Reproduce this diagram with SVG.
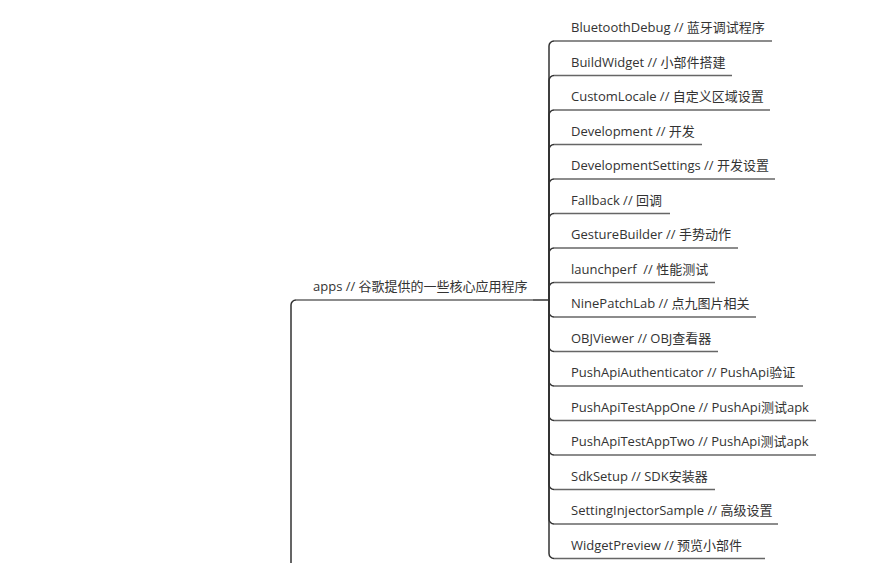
<svg xmlns="http://www.w3.org/2000/svg" width="874" height="563" viewBox="0 0 874 563">
<style>
text{font-family:"Open Sans","Noto Sans CJK SC",sans-serif;font-size:13px;fill:#333}
.ul{stroke:#666;stroke-width:1.5;fill:none}
.cn{stroke:#333;stroke-width:1.5;fill:none}
</style>
<rect width="874" height="563" fill="#fff"/>
<g id="connectors">
<path class="cn" d="M291,570 V305 A5,5 0 0 1 296,300"/>
<path class="cn" d="M533,300 H549"/>
<path class="cn" d="M549,300 V46 A5,5 0 0 1 554,41"/>
<path class="cn" d="M549,300 V80.5 A5,5 0 0 1 554,75.5"/>
<path class="cn" d="M549,300 V115 A5,5 0 0 1 554,110"/>
<path class="cn" d="M549,300 V149.5 A5,5 0 0 1 554,144.5"/>
<path class="cn" d="M549,300 V184 A5,5 0 0 1 554,179"/>
<path class="cn" d="M549,300 V218.5 A5,5 0 0 1 554,213.5"/>
<path class="cn" d="M549,300 V253 A5,5 0 0 1 554,248"/>
<path class="cn" d="M549,300 V287.5 A5,5 0 0 1 554,282.5"/>
<path class="cn" d="M549,300 V312 A5,5 0 0 0 554,317"/>
<path class="cn" d="M549,300 V346.5 A5,5 0 0 0 554,351.5"/>
<path class="cn" d="M549,300 V381 A5,5 0 0 0 554,386"/>
<path class="cn" d="M549,300 V415.5 A5,5 0 0 0 554,420.5"/>
<path class="cn" d="M549,300 V450 A5,5 0 0 0 554,455"/>
<path class="cn" d="M549,300 V484.5 A5,5 0 0 0 554,489.5"/>
<path class="cn" d="M549,300 V519 A5,5 0 0 0 554,524"/>
<path class="cn" d="M549,300 V553.5 A5,5 0 0 0 554,558.5"/>
</g>
<g id="apps"><path class="ul" d="M296,300 H533"/><text x="313" y="291">apps // 谷歌提供的一些核心应用程序</text></g>
<g id="n1"><path class="ul" d="M554,41 H772"/><text x="571" y="32">BluetoothDebug // 蓝牙调试程序</text></g>
<g id="n2"><path class="ul" d="M554,75.5 H732"/><text x="571" y="66.5">BuildWidget // 小部件搭建</text></g>
<g id="n3"><path class="ul" d="M554,110 H770"/><text x="571" y="101">CustomLocale // 自定义区域设置</text></g>
<g id="n4"><path class="ul" d="M554,144.5 H702"/><text x="571" y="135.5">Development // 开发</text></g>
<g id="n5"><path class="ul" d="M554,179 H775"/><text x="571" y="170">DevelopmentSettings // 开发设置</text></g>
<g id="n6"><path class="ul" d="M554,213.5 H670"/><text x="571" y="204.5">Fallback // 回调</text></g>
<g id="n7"><path class="ul" d="M554,248 H738"/><text x="571" y="239">GestureBuilder // 手势动作</text></g>
<g id="n8"><path class="ul" d="M554,282.5 H715"/><text x="571" y="273.5" xml:space="preserve">launchperf  // 性能测试</text></g>
<g id="n9"><path class="ul" d="M554,317 H756"/><text x="571" y="308">NinePatchLab // 点九图片相关</text></g>
<g id="n10"><path class="ul" d="M554,351.5 H718"/><text x="571" y="342.5">OBJViewer // OBJ查看器</text></g>
<g id="n11"><path class="ul" d="M554,386 H803"/><text x="571" y="377">PushApiAuthenticator // PushApi验证</text></g>
<g id="n12"><path class="ul" d="M554,420.5 H816"/><text x="571" y="411.5">PushApiTestAppOne // PushApi测试apk</text></g>
<g id="n13"><path class="ul" d="M554,455 H816"/><text x="571" y="446">PushApiTestAppTwo // PushApi测试apk</text></g>
<g id="n14"><path class="ul" d="M554,489.5 H715"/><text x="571" y="480.5">SdkSetup // SDK安装器</text></g>
<g id="n15"><path class="ul" d="M554,524 H778"/><text x="571" y="515">SettingInjectorSample // 高级设置</text></g>
<g id="n16"><path class="ul" d="M554,558.5 H765"/><text x="571" y="549.5">WidgetPreview // 预览小部件</text></g>
</svg>
